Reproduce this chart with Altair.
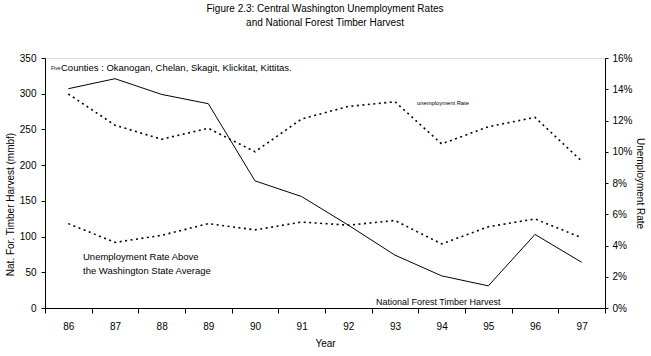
import altair as alt
import pandas as pd

years = ["86", "87", "88", "89", "90", "91", "92", "93", "94", "95", "96", "97"]
timber_harvest = [307, 321, 299, 286, 178, 156, 116, 74, 45, 31, 103, 64]
unemployment_rate = [13.7, 11.7, 10.8, 11.5, 10.0, 12.1, 12.9, 13.2, 10.5, 11.6, 12.2, 9.4]
above_state_avg = [5.4, 4.2, 4.65, 5.4, 5.0, 5.5, 5.3, 5.6, 4.1, 5.2, 5.7, 4.5]
left_ticks = [0, 50, 100, 150, 200, 250, 300, 350]
right_ticks = [0, 2, 4, 6, 8, 10, 12, 14, 16]

df = pd.DataFrame({
    "year": years,
    "timber": timber_harvest,
    "unemp": unemployment_rate,
    "above": above_state_avg,
})

FONT = "Liberation Sans"
FS = 10

x_enc = alt.X(
    "year:N", sort=years, title="Year", bandPosition=0.5,
    scale=alt.Scale(type="band", paddingInner=0, paddingOuter=0),
    axis=alt.Axis(labelAngle=0, tickBand="extent", tickSize=5, labelPadding=8,
                  titlePadding=7, domainColor="black", tickColor="black",
                  labelColor="black", titleColor="black", labelFont=FONT,
                  titleFont=FONT, labelFontSize=FS, titleFontSize=FS,
                  titleFontWeight="normal", grid=False),
)

timber_line = alt.Chart(df).mark_line(color="black", strokeWidth=1).encode(
    x=x_enc,
    y=alt.Y("timber:Q", title="Nat. For. Timber Harvest (mmbf)",
            scale=alt.Scale(domain=[0, 350], nice=False),
            axis=alt.Axis(orient="left", values=left_ticks, tickSize=4, labelPadding=5,
                          titlePadding=4, titleY=146, domainColor="black", tickColor="black",
                          labelColor="black", titleColor="black", labelFont=FONT,
                          titleFont=FONT, labelFontSize=FS, titleFontSize=FS,
                          titleFontWeight="normal", grid=False)),
)

unemp_lines = alt.Chart(df).transform_fold(
    ["unemp", "above"], as_=["series", "rate"]
).mark_line(color="black", strokeWidth=1.6, strokeDash=[2, 3.5]).encode(
    x=x_enc,
    y=alt.Y("rate:Q", title="Unemployment Rate",
            scale=alt.Scale(domain=[0, 16], nice=False),
            axis=alt.Axis(orient="right", values=right_ticks, tickSize=3, labelPadding=4,
                          labelExpr="datum.value + '%'",
                          titlePadding=2, domainColor="black", tickColor="black",
                          labelColor="black", titleColor="black", labelFont=FONT,
                          titleFont=FONT, labelFontSize=FS, titleFontSize=FS,
                          titleFontWeight="normal", grid=False)),
    detail="series:N",
)

def note(text, px, py, size=FS):
    return alt.Chart(pd.DataFrame({"t": [text]})).mark_text(
        align="left", baseline="middle", font=FONT, fontSize=size, color="black"
    ).encode(text="t:N", x=alt.value(px), y=alt.value(py))

notes = [
    note("Five", 6, 10, 5),
    note("Counties :  Okanogan, Chelan, Skagit, Klickitat, Kittitas.", 16, 10, 9.5),
    note("unemployment Rate", 372, 45, 5.8),
    note("Unemployment Rate Above", 38, 199, 9.5),
    note("the Washington State Average", 38, 213, 9.5),
    note("National Forest Timber Harvest", 331, 244, 9),
]

base = alt.layer(timber_line, unemp_lines).resolve_scale(y="independent")

chart = alt.layer(base, *notes).properties(
    width=560, height=250,
    autosize=alt.AutoSizeParams(type="none"),
    padding={"left": 45, "top": 58, "right": 46, "bottom": 48},
    title=alt.TitleParams(
        text=["Figure 2.3: Central Washington Unemployment Rates",
              "and National Forest Timber Harvest"],
        font=FONT, fontSize=FS, fontWeight="normal", color="black",
        anchor="middle", lineHeight=14, offset=25,
    ),
).configure_view(
    fill="#FFFFCC", stroke="#808080", strokeWidth=1
).configure(background="white")

chart.save("out.html", embed_options={"renderer": "svg", "actions": False})
